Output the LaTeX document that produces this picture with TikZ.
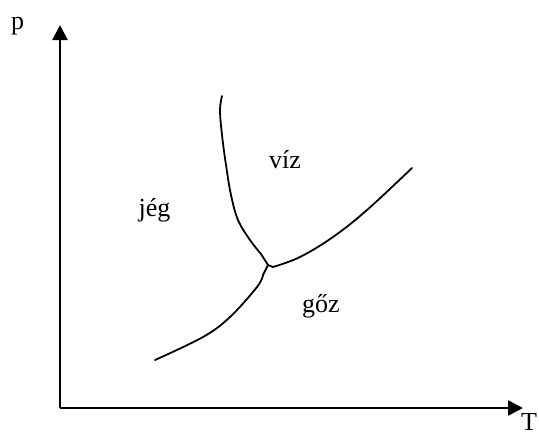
\documentclass[tikz,border=0pt]{standalone}
\usepackage{fontspec}
\setmainfont{Liberation Serif}
\usetikzlibrary{arrows.meta}

\begin{document}
\begin{tikzpicture}[
    x=1pt, y=-1pt,
    every node/.style={font=\fontsize{26}{30}\selectfont, inner sep=0pt},
    axis/.style={line width=2.5pt, -{Triangle[length=15pt, width=15pt]}},
    phaseline/.style={line width=1.8pt, line cap=round, line join=round},
    region/.style={anchor=base}
]
    \useasboundingbox (0,0) rectangle (539,432);

% -------------------------
% Axes
% -------------------------
    \coordinate (origin) at (60,408);
    \coordinate (ptip) at (60,25);
    \coordinate (ttip) at (523,408);
    \draw[axis] (origin) -- (ptip);
    \draw[axis] (origin) -- (ttip);

    \node[region] (plabel) at (17.5,29) {p};
    \node[region] (tlabel) at (529,430) {T};

% -------------------------
% Phase boundaries
% -------------------------
    \coordinate (triple) at (268,265);

    % melting curve
    \draw[phaseline] plot[smooth, tension=0.6] coordinates {
        (222,96) (220,110) (222,135) (226,165) (231,195) (238,220) (250,240) (261,254)} -- (triple);
    % boiling curve
    \draw[phaseline] (triple) -- plot[smooth, tension=0.6] coordinates {
        (273,267) (300,257) (333,237) (367,210) (412,168)};
    % sublimation curve
    \draw[phaseline] (triple) -- plot[smooth, tension=0.6] coordinates {
        (263,275) (257,287) (230,317) (203,337) (155,360)};

% -------------------------
% Region labels
% -------------------------
    \node[region] (ice) at (154.5,216) {jég};
    \node[region] (water) at (285,168) {víz};
    \node[region] (vapour) at (321,312) {gőz};
\end{tikzpicture}
\end{document}
